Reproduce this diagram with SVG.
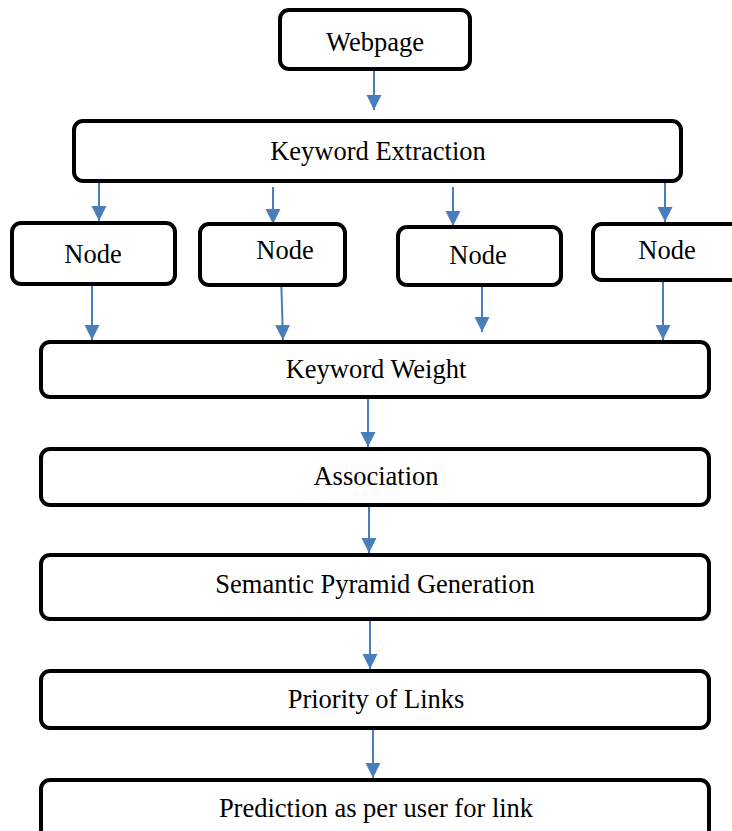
<svg xmlns="http://www.w3.org/2000/svg" width="732" height="831" viewBox="0 0 732 831">
<style>
.box{fill:#fff;stroke:#000;stroke-width:4}
.lbl{font-family:"Liberation Serif","Times New Roman",serif;font-size:26.5px;fill:#000;text-anchor:middle}
.con{stroke:#4a7ebb;stroke-width:2;fill:none;marker-end:url(#ah)}
</style>
<defs>
<marker id="ah" markerUnits="userSpaceOnUse" markerWidth="16" markerHeight="16" refX="15" refY="7.5" orient="auto">
<path d="M0,0 L15,7.5 L0,15 Z" fill="#4a7ebb"/>
</marker>
</defs>
<rect width="732" height="831" fill="#fff"/>
<g id="connectors">
<line class="con" x1="374" y1="71" x2="374" y2="110"/>
<line class="con" x1="99" y1="183" x2="99" y2="221"/>
<line class="con" x1="273" y1="187" x2="273" y2="224"/>
<line class="con" x1="453" y1="187" x2="453" y2="226"/>
<line class="con" x1="665" y1="181" x2="665" y2="222"/>
<line class="con" x1="92" y1="284" x2="92" y2="340"/>
<line class="con" x1="281" y1="274" x2="283" y2="340"/>
<line class="con" x1="482" y1="274" x2="482" y2="332"/>
<line class="con" x1="663" y1="282" x2="663" y2="340"/>
<line class="con" x1="368" y1="398" x2="368" y2="447"/>
<line class="con" x1="369" y1="506" x2="369" y2="553"/>
<line class="con" x1="370" y1="620" x2="370" y2="669"/>
<line class="con" x1="373" y1="729" x2="373" y2="778"/>
</g>
<g id="webpage"><rect class="box" x="280" y="10" width="190" height="59" rx="9"/><text class="lbl" x="375" y="51">Webpage</text></g>
<g id="keyword-extraction"><rect class="box" x="74" y="121" width="607" height="60" rx="9"/><text class="lbl" x="378" y="160">Keyword Extraction</text></g>
<g id="node1"><rect class="box" x="12" y="223" width="163" height="61" rx="9"/><text class="lbl" x="93" y="263">Node</text></g>
<g id="node2"><rect class="box" x="200" y="224" width="145" height="61" rx="9"/><text class="lbl" x="285" y="259">Node</text></g>
<g id="node3"><rect class="box" x="398" y="227" width="163" height="58" rx="9"/><text class="lbl" x="478" y="264">Node</text></g>
<g id="node4"><rect class="box" x="593" y="224" width="170" height="56" rx="9"/><text class="lbl" x="667" y="259">Node</text></g>
<g id="keyword-weight"><rect class="box" x="41" y="342" width="668" height="55" rx="9"/><text class="lbl" x="376" y="378">Keyword Weight</text></g>
<g id="association"><rect class="box" x="41" y="449" width="668" height="56" rx="9"/><text class="lbl" x="376" y="485">Association</text></g>
<g id="semantic-pyramid"><rect class="box" x="41" y="555" width="668" height="64" rx="9"/><text class="lbl" x="375" y="593">Semantic Pyramid Generation</text></g>
<g id="priority"><rect class="box" x="41" y="671" width="668" height="57" rx="9"/><text class="lbl" x="376" y="708">Priority of Links</text></g>
<g id="prediction"><rect class="box" x="41" y="780" width="668" height="70" rx="9"/><text class="lbl" x="376" y="817">Prediction as per user for link</text></g>
</svg>
